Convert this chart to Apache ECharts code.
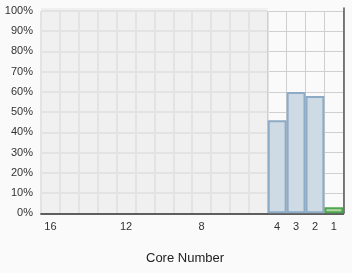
<!DOCTYPE html>
<html><head><meta charset="utf-8">
<script src="https://cdn.jsdelivr.net/npm/echarts@6/dist/echarts.min.js"></script>
<style>html,body{margin:0;padding:0;background:#fafafa;}#c{width:352px;height:273px;}</style>
</head><body><div id="c"></div>
<script>
const idleCores = ['16','15','14','13','12','11','10','9','8','7','6','5'];
const activeCores = ['4','3','2','1'];
const activeUsage = [46, 60, 58, 3];
const barKinds = ['blue','blue','blue','green'];
const shownTicks = ['16','12','8','4','3','2','1'];

const FONT = 'Liberation Sans, Arial, sans-serif';
const styles = {
  blue: {color:'#cedae4', borderColor:'#8eabc6'},
  green:{color:'#b4d9a9', borderColor:'#4fa64f'}
};
const chart = echarts.init(document.getElementById('c'), null, {renderer:'canvas'});
const gL = 41, gTop = 11, gH = 202.3, cell = (343.3-41)/16;
const labelStyle = {fontFamily:FONT, fontSize:11, color:'#333'};
const darkLine = {show:true, lineStyle:{color:'#555', width:1.5}};
function bottomAxis(gi, cats, split){
  return {type:'category', gridIndex:gi, data:cats, boundaryGap:true, position:'bottom',
    axisLine:darkLine, axisTick:{show:false},
    axisLabel:{interval:0, margin:8, ...labelStyle, formatter:v=>shownTicks.includes(v)?v:''},
    splitLine:{show:true, interval:0, lineStyle:split}};
}
function frameX(gi, cats){
  return {type:'category', gridIndex:gi, data:cats, position:'top',
    axisLine:darkLine, axisTick:{show:false}, axisLabel:{show:false}, splitLine:{show:false}};
}
function frameY(gi, showLine){
  return {type:'value', gridIndex:gi, min:0, max:100, position:'right',
    axisLine:showLine?darkLine:{show:false}, axisTick:{show:false}, axisLabel:{show:false}, splitLine:{show:false}};
}
chart.setOption({
  backgroundColor:'#fafafa',
  animation:false,
  title:{text:'Core Number', left:141, top:247, textStyle:{fontFamily:FONT, fontSize:13, fontWeight:'normal', color:'#222'}},
  grid:[
    {left:gL, top:gTop-3, width:12*cell, height:gH+3, show:true, backgroundColor:'#f0f0f0', borderWidth:0},
    {left:gL+12*cell, top:gTop-3, width:4*cell, height:gH+3, show:true, backgroundColor:'#fafafa', borderWidth:0},
    {left:gL, top:gTop, width:12*cell, height:gH},
    {left:gL+12*cell, top:gTop, width:4*cell, height:gH}
  ],
  xAxis:[
    bottomAxis(2, idleCores, {color:'#e3e3e3', width:2}),
    bottomAxis(3, activeCores, {color:'#cfcfcf', width:1}),
    frameX(0, idleCores),
    frameX(1, activeCores)
  ],
  yAxis:[
    {type:'value', gridIndex:2, min:0, max:100, interval:10, axisLine:{show:false}, axisTick:{show:false},
     axisLabel:{margin:8, ...labelStyle, formatter:'{value}%'},
     splitLine:{lineStyle:{color:'#e3e3e3', width:2}}},
    {type:'value', gridIndex:3, min:0, max:100, interval:10, position:'right',
     axisLine:{show:false}, axisTick:{show:false}, axisLabel:{show:false},
     splitLine:{lineStyle:{color:'#cfcfcf', width:1}}},
    frameY(0, false),
    frameY(1, true)
  ],
  series:[{
    type:'bar', xAxisIndex:1, yAxisIndex:1, barCategoryGap:'0%',
    data: activeUsage.map((v,i)=>({value:v, itemStyle:{...styles[barKinds[i]], borderWidth:2}}))
  }]
});
</script></body></html>
